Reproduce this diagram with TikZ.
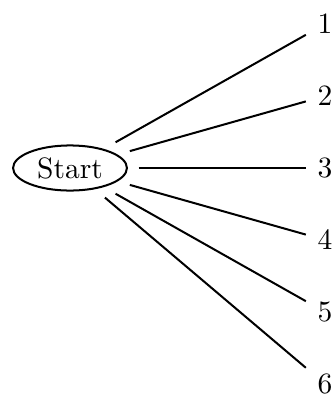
\documentclass[tikz,border=0pt]{standalone}
\usetikzlibrary{shapes.geometric}
\begin{document}
\begin{tikzpicture}[x=0.339pt,y=-0.339pt,
  root/.style={draw, ellipse, line width=0.68pt, inner sep=0pt,
    minimum width=38.6pt, minimum height=15.3pt, outer sep=4pt},
  leaf/.style={inner sep=0pt, outer sep=4pt},
  branch/.style={line width=0.68pt}]
\useasboundingbox (0,0) rectangle (334,394);
\node[root] (s) at (70,168) {Start};
\foreach \i in {1,...,6} {
  \node[leaf] (n\i) at (325,{168+72*(\i-3)}) {\i};
  \draw[branch] (s) -- (n\i);
}
\end{tikzpicture}
\end{document}
